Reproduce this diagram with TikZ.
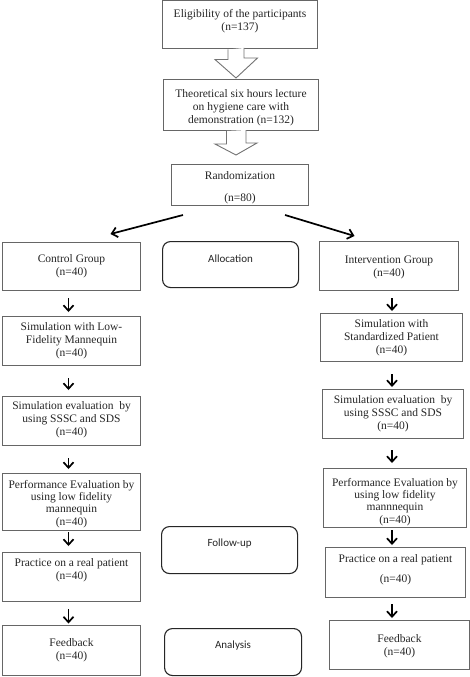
\documentclass[tikz,border=0pt]{standalone}
\usepackage{fontspec}
\setmainfont{Liberation Serif}
\newfontfamily\calib{Carlito}
\usetikzlibrary{calc,arrows.meta}
\begin{document}
\begin{tikzpicture}[x=1pt,y=-1pt,
 box/.style={draw=black!60, line width=1pt, anchor=north west, inner sep=0pt},
 rbox/.style={draw=black!85, line width=1.1pt, rounded corners=8pt, anchor=north west, inner sep=0pt},
 txt/.style={align=center, inner sep=0pt, font=\fontsize{11.5}{13}\selectfont, text=black!85},
 ctxt/.style={inner sep=0pt, font=\calib\fontsize{11}{13}\selectfont, text=black!85},
 arr/.style={line width=1.7pt, -{Straight Barb[length=5.5pt,width=10pt]}},
 hollow/.style={draw=black!55, line width=0.9pt, fill=white}]
\useasboundingbox (0,0) rectangle (470,677);
\fill[white] (0,0) rectangle (470,677);
\coordinate (xl) at (68.5,0);
\coordinate (xr) at (392,0);
\coordinate (xh) at (236,0);

% top boxes
\node[box, minimum width=155pt, minimum height=48pt] (elig) at (162,0.5) {};
\node[txt] (telig) at ($(elig.center)+(0,-4)$) {Eligibility of the participants\\(n=137)};
\node[box, minimum width=155pt, minimum height=51pt] (lect) at (163,79) {};
\node[txt] (tlect) at ($(lect.center)+(0,2.5)$) {Theoretical six hours lecture\\on hygiene care with\\demonstration (n=132)};
\node[box, minimum width=137pt, minimum height=41pt] (rand) at (171,164) {};
\node[txt] (trand) at ($(rand.center)+(0,3)$) {Randomization\\[9pt](n=80)};

% hollow arrows
\draw[hollow] ($(xh |- elig.south)+(-8,0)$) -- ++(0,10) -- ++(-13,0)
  -- ($(xh |- lect.north)+(0,-1)$) -- ++(21.5,-20) -- ++(-13.5,0) -- ++(0,-10);
\draw[hollow] ($(xh |- lect.south)+(-9.5,0)$) -- ++(0,13) -- ++(-11.5,0)
  -- ($(xh |- rand.north)+(0,-9)$) -- ++(21,-12) -- ++(-11,0) -- ++(0,-13);

% left column
\node[box, minimum width=138pt, minimum height=48pt] (ctrl) at (2,242) {};
\node[txt] (tctrl) at (ctrl.center) {Control Group\\(n=40)};
\node[box, minimum width=138pt, minimum height=49pt] (L2) at (2,316) {};
\node[txt] (tL2) at (L2.center) {Simulation with Low-\\Fidelity Mannequin\\(n=40)};
\node[box, minimum width=138pt, minimum height=49pt] (L3) at (2,396) {};
\node[txt] (tL3) at ($(L3.center)+(0,-1)$) {Simulation evaluation\ \ by\\using SSSC and SDS\\(n=40)};
\node[box, minimum width=138pt, minimum height=57pt] (L4) at (2,473) {};
\node[txt, font=\fontsize{11.5}{12.3}\selectfont] (tL4) at ($(L4.center)+(0,2)$) {Performance Evaluation by\\using low fidelity\\mannequin\\(n=40)};
\node[box, minimum width=138pt, minimum height=49pt] (L5) at (2,552) {};
\node[txt] (tL5) at ($(L5.center)+(0,-6.5)$) {Practice on a real patient\\(n=40)};
\node[box, minimum width=138pt, minimum height=50pt] (L6) at (2,625) {};
\node[txt] (tL6) at (L6.center) {Feedback\\(n=40)};

% right column
\node[box, minimum width=139pt, minimum height=49pt] (int) at (319,241) {};
\node[txt] (tint) at ($(int.center)+(0,1)$) {Intervention Group\\(n=40)};
\node[box, minimum width=142pt, minimum height=48pt] (R2) at (320,313) {};
\node[txt] (tR2) at (R2.center) {Simulation with\\Standardized Patient\\(n=40)};
\node[box, minimum width=141pt, minimum height=49pt] (R3) at (322,389) {};
\node[txt] (tR3) at (R3.center) {Simulation evaluation\ \ by\\using SSSC and SDS\\(n=40)};
\node[box, minimum width=143pt, minimum height=59pt] (R4) at (323,468) {};
\node[txt, font=\fontsize{11.5}{12.3}\selectfont] (tR4) at ($(R4.center)+(0,4)$) {Performance Evaluation by\\using low fidelity\\mannnequin\\(n=40)};
\node[box, minimum width=140pt, minimum height=50pt] (R5) at (325,547) {};
\node[txt] (tR5) at ($(R5.center)+(0,-3)$) {Practice on a real patient\\[7pt](n=40)};
\node[box, minimum width=140pt, minimum height=49pt] (R6) at (329,620) {};
\node[txt] (tR6) at ($(R6.center)+(0,1)$) {Feedback\\(n=40)};

% middle rounded boxes
\node[rbox, minimum width=136pt, minimum height=46pt] (alloc) at (162,241) {};
\node[ctxt] (talloc) at ($(alloc.center)+(0,-6)$) {Allocation};
\node[rbox, minimum width=136pt, minimum height=47pt] (follow) at (161,526) {};
\node[ctxt] (tfollow) at ($(follow.center)+(0,-6.5)$) {Follow-up};
\node[rbox, minimum width=137pt, minimum height=47pt] (anal) at (164,628) {};
\node[ctxt] (tanal) at ($(anal.center)+(0,-6.5)$) {Analysis};

% diagonal arrows
\draw[arr] ($(rand.south west)+(12,9)$) -- ($(ctrl.north)+(39,-8)$);
\draw[arr] ($(rand.south east)+(-24,9)$) -- ($(int.north)+(-34.5,-5)$);

% left arrows
\draw[arr] ($(xl |- ctrl.south)+(0,7)$) -- ($(xl |- L2.north)+(0,-4)$);
\draw[arr] ($(xl |- L2.south)+(0,12)$) -- ($(xl |- L3.north)+(0,-6)$);
\draw[arr] ($(xl |- L3.south)+(0,12)$) -- ($(xl |- L4.north)+(0,-4)$);
\draw[arr] ($(xl |- L4.south)+(0,1)$) -- ($(xl |- L5.north)+(0,-6)$);
\draw[arr] ($(xl |- L5.south)+(0,7)$) -- ($(xl |- L6.north)+(0,-1.5)$);

% right arrows
\draw[arr] ($(xr |- int.south)+(0,7)$) -- ($(xr |- R2.north)+(0,-2)$);
\draw[arr] ($(xr |- R2.south)+(0,12)$) -- ($(xr |- R3.north)+(0,-2)$);
\draw[arr] ($(xr |- R3.south)+(0,11)$) -- ($(xr |- R4.north)+(0,-5)$);
\draw[arr] ($(xr |- R4.south)+(0,2)$) -- ($(xr |- R5.north)+(0,-2)$);
\draw[arr] ($(xr |- R5.south)+(0,6)$) -- ($(xr |- R6.north)+(0,-2)$);
\end{tikzpicture}
\end{document}
